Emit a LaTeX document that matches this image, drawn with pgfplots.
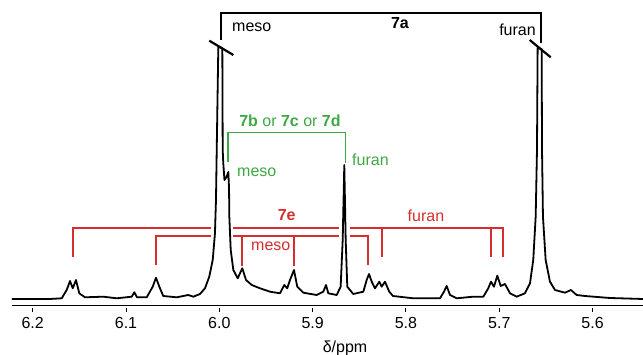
\documentclass[border=0pt]{standalone}
\usepackage{fontspec}
\setmainfont{Liberation Sans}
\usepackage{pgfplots}
\pgfplotsset{compat=1.18}
\definecolor{sgreen}{RGB}{62,168,66}
\definecolor{sred}{RGB}{214,46,46}
\begin{document}
\fontsize{16}{19}\selectfont
\begin{tikzpicture}
\useasboundingbox (-12pt,-48pt) rectangle (631pt,307pt);
\begin{axis}[
  at={(0pt,0pt)}, anchor=south west,
  scale only axis, width=631pt, height=307pt,
  xmin=5.5460, xmax=6.2222, ymin=-8, ymax=299,
  x dir=reverse, clip=false,
  axis x line*=bottom, axis y line=none,
  x axis line style={double, double distance=1.2pt, line width=0.9pt, -},
  xtick={5.6,5.7,5.8,5.9,6.0,6.1,6.2},
  tick align=outside, major tick length=5pt,
  tick style={black, line width=1pt},
  tick label style={font=\fontsize{16}{19}\selectfont},
  /pgf/number format/assume math mode=true,
  xticklabel style={/pgf/number format/.cd, fixed, fixed zerofill, precision=1},
]
\addplot[black, line width=1.8pt, line join=round] coordinates {
(6.2222,0) (6.1815,0) (6.1689,0.7) (6.1636,9) (6.1600,18) (6.1571,10.7)
(6.1536,19) (6.1501,5.7) (6.1440,1.7) (6.1243,2.3) (6.1100,0.7) (6.0939,2.3)
(6.0911,6.7) (6.0882,1.7) (6.0778,1.7) (6.0714,12.3) (6.0679,21.3) (6.0643,12.3)
(6.0601,3) (6.0457,1.7) (6.0333,4) (6.0279,2.3) (6.0207,5) (6.0154,10.7)
(6.0108,22.3) (6.0071,39) (6.0047,65.7) (6.0036,99) (6.0028,149) (6.0011,252)
(5.9968,251) (5.9964,149) (5.9958,136) (5.9945,119) (5.9923,122) (5.9904,127)
(5.9896,111) (5.9893,82.3) (5.9878,49) (5.9850,29) (5.9803,20.7) (5.9754,30.7)
(5.9714,19) (5.9653,14) (5.9564,10.7) (5.9457,7.3) (5.9350,5.7) (5.9304,14)
(5.9272,10.7) (5.9243,19) (5.9200,29) (5.9165,12.3) (5.9100,6.3) (5.8957,4)
(5.8886,7.3) (5.8857,14) (5.8832,5.7) (5.8742,4) (5.8700,12.3) (5.8678,59)
(5.8661,134) (5.8646,59) (5.8629,12.3) (5.8565,5) (5.8457,7.3) (5.8421,19)
(5.8396,25) (5.8367,17.3) (5.8332,10.7) (5.8286,17.3) (5.8260,12.3) (5.8225,17.3)
(5.8179,7.3) (5.8139,3) (5.7922,0.7) (5.7635,0.7) (5.7593,7.3) (5.7564,13)
(5.7528,4) (5.7457,0.7) (5.7279,2.3) (5.7171,2.3) (5.7118,10.7) (5.7089,17.3)
(5.7057,12.3) (5.7021,23.3) (5.6985,13) (5.6939,15) (5.6885,5.7) (5.6814,2.3)
(5.6725,5.7) (5.6671,15.7) (5.6636,39) (5.6610,82.3) (5.6596,149) (5.6589,251)
(5.6546,250) (5.6542,149) (5.6532,82.3) (5.6503,39) (5.6457,17.3) (5.6403,9)
(5.6296,6.3) (5.6232,9) (5.6171,4) (5.6082,3) (5.5814,1) (5.5460,0)
};
% 7a bracket
\draw[black, line width=1.8pt] (axis cs:5.9982,259) -- (axis cs:5.9982,286) -- (axis cs:5.6550,286) -- (axis cs:5.6550,256);
\draw[black, line width=2.2pt] (axis cs:6.0108,258.3) -- (axis cs:5.9850,244);
\draw[black, line width=2.2pt] (axis cs:5.6674,259) -- (axis cs:5.6449,241.7);
\node[anchor=west, inner sep=0pt, font=\fontsize{16}{19}\selectfont] at (axis cs:5.9864,272) {meso};
\node[inner sep=0pt, font=\fontsize{16}{19}\selectfont\bfseries] at (axis cs:5.8064,276) {7a};
\node[anchor=east, inner sep=0pt, font=\fontsize{16}{19}\selectfont] at (axis cs:5.6607,269) {furan};
% green bracket
\draw[sgreen, line width=1.6pt] (axis cs:5.9907,137) -- (axis cs:5.9907,166.3) -- (axis cs:5.8646,166.3) -- (axis cs:5.8646,136);
\node[sgreen, inner sep=0pt, font=\fontsize{16}{19}\selectfont] at (axis cs:5.9243,178) {\textbf{7b} or \textbf{7c} or \textbf{7d}};
\node[sgreen, anchor=west, inner sep=0pt, font=\fontsize{16}{19}\selectfont] at (axis cs:5.9811,127) {meso};
\node[sgreen, anchor=west, inner sep=0pt, font=\fontsize{16}{19}\selectfont] at (axis cs:5.8578,139) {furan};
% red brackets
\draw[sred, line width=1.8pt] (axis cs:6.1568,41.7) -- (axis cs:6.1568,71) -- (axis cs:6.0093,71);
\draw[sred, line width=1.8pt] (axis cs:5.9850,71) -- (axis cs:5.8718,71);
\draw[sred, line width=1.8pt] (axis cs:5.8600,71) -- (axis cs:5.6960,71) -- (axis cs:5.6960,41.5);
\draw[sred, line width=1.8pt] (axis cs:5.8254,71) -- (axis cs:5.8254,41.5);
\draw[sred, line width=1.8pt] (axis cs:5.7086,71) -- (axis cs:5.7086,41.5);
\draw[sred, line width=1.8pt] (axis cs:6.0679,34) -- (axis cs:6.0679,63.3) -- (axis cs:6.0093,63.3);
\draw[sred, line width=1.8pt] (axis cs:5.9850,63.3) -- (axis cs:5.8718,63.3);
\draw[sred, line width=1.8pt] (axis cs:5.8600,63.3) -- (axis cs:5.8407,63.3) -- (axis cs:5.8407,34);
\draw[sred, line width=1.8pt] (axis cs:5.9754,63.3) -- (axis cs:5.9754,32.5);
\draw[sred, line width=1.8pt] (axis cs:5.9200,63.3) -- (axis cs:5.9200,32.5);
\node[sred, inner sep=0pt, font=\fontsize{16}{19}\selectfont\bfseries] at (axis cs:5.9278,84) {7e};
\node[sred, inner sep=0pt, font=\fontsize{16}{19}\selectfont] at (axis cs:5.9449,53) {meso};
\node[sred, inner sep=0pt, font=\fontsize{16}{19}\selectfont] at (axis cs:5.7786,83) {furan};
% axis label
\node[inner sep=0pt, font=\fontsize{16}{19}\selectfont] at (axis cs:5.8653,-49) {δ/ppm};
\end{axis}
\end{tikzpicture}
\end{document}
